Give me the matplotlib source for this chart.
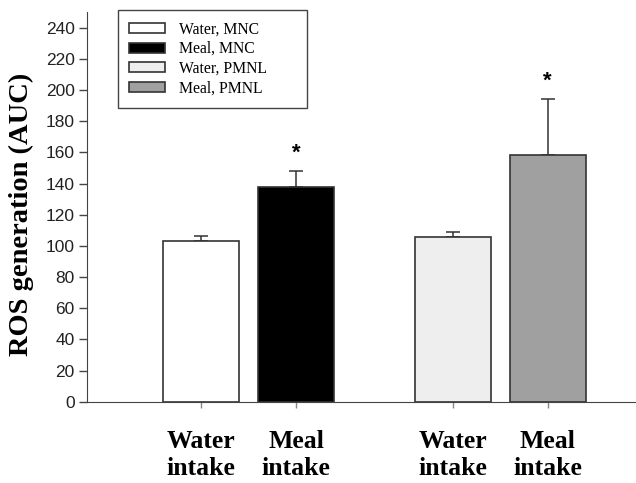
import matplotlib.pyplot as plt
import numpy as np

groups = ['MNC', 'PMNL']
labels = ['Water, MNC', 'Meal, MNC', 'Water, PMNL', 'Meal, PMNL']
tick_labels = ['Water\nintake', 'Meal\nintake', 'Water\nintake', 'Meal\nintake']
values = np.array([103, 137.5, 105.5, 158.5])
errors = np.array([3.5, 10.5, 3.5, 35.5])
significant = [False, True, False, True]

colors = ['white', 'black', '#eeeeee', '#a0a0a0']
pos = np.array([1.2, 2.2, 3.85, 4.85])

fig = plt.figure(figsize=(6.36, 4.83), dpi=100)
ax = fig.add_axes([0.137, 0.168, 0.863, 0.807])

for i in range(4):
    ax.bar(pos[i], values[i], width=0.8, color=colors[i], edgecolor='#333333',
           linewidth=1.2, label=labels[i], zorder=2)
    ax.errorbar(pos[i], values[i], yerr=[[0], [errors[i]]], fmt='none',
                ecolor='#333333', elinewidth=1.1, capsize=5, capthick=1.1, zorder=1)
    if significant[i]:
        ax.text(pos[i], values[i] + errors[i] + 5, '*', ha='center', va='bottom',
                fontsize=16, fontweight='bold', family='Liberation Sans')

ax.set_xlim(0, 5.78)
ax.set_ylim(0, 250)
ax.set_yticks(np.arange(0, 241, 20))
ax.set_xticks(pos)
ax.set_xticklabels(tick_labels, family='Liberation Serif', fontweight='bold',
                   fontsize=18.5, linespacing=1.25)
for t in ax.get_yticklabels():
    t.set_family('Liberation Sans')
    t.set_fontsize(12.5)
    t.set_color('#222222')
ax.tick_params(axis='y', direction='out', length=6, width=1, color='#444444', pad=3)
ax.tick_params(axis='x', direction='out', length=4, width=1, color='#888888', pad=16)

ax.spines['top'].set_visible(False)
ax.spines['right'].set_visible(False)
ax.spines['left'].set_color('#444444')
ax.spines['bottom'].set_color('#444444')

ax.set_ylabel('ROS generation (AUC)', family='Liberation Serif', fontweight='bold',
              fontsize=20.5)
ax.yaxis.set_label_coords(-0.097, 0.48)

handles, _ = ax.get_legend_handles_labels()
leg = fig.legend(handles, labels, loc='upper left',
                 bbox_to_anchor=(118 / 636, 1 - 15 / 483, 189 / 636, 0.01),
                 bbox_transform=fig.transFigure, mode='expand', fancybox=False,
                 edgecolor='#444444', framealpha=1,
                 prop={'family': 'Liberation Serif', 'size': 11.3},
                 handlelength=2.3, handleheight=0.6, labelspacing=0.25, borderpad=0.7,
                 handletextpad=0.9, borderaxespad=0)
leg.get_frame().set_linewidth(1.0)

plt.savefig('out.png')
